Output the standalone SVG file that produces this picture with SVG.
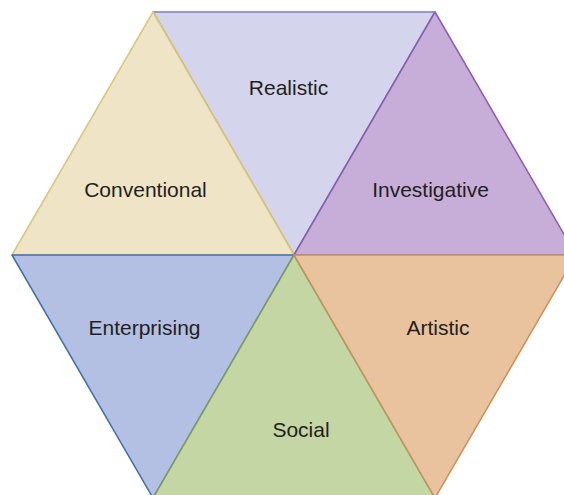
<svg xmlns="http://www.w3.org/2000/svg" width="564" height="495" viewBox="0 0 564 495">
<style>
.t{font-family:"Liberation Sans",Arial,sans-serif;font-size:21px;fill:#231f20;text-anchor:middle}
polygon{stroke-width:1.5;stroke-linejoin:round}
</style>
<rect width="564" height="495" fill="#ffffff"/>
<g id="realistic"><polygon points="153,12 435,12 294,255" fill="#d4d5ec" stroke="#7a7cc8"/><text class="t" x="288.5" y="95">Realistic</text></g>
<g id="conventional"><polygon points="153,12 12,255 294,255" fill="#efe4c6" stroke="#d8c878"/><text class="t" x="145.5" y="197">Conventional</text></g>
<g id="investigative"><polygon points="435,12 576,255 294,255" fill="#c7aed8" stroke="#8c5cb0"/><text class="t" x="430.5" y="197">Investigative</text></g>
<g id="enterprising"><polygon points="12,255 153,498 294,255" fill="#b3c0e3" stroke="#3e6fb8"/><text class="t" x="144.5" y="335">Enterprising</text></g>
<g id="social"><polygon points="153,498 435,498 294,255" fill="#c3d6a4" stroke="#7ea04a"/><text class="t" x="301" y="437">Social</text></g>
<g id="artistic"><polygon points="576,255 435,498 294,255" fill="#e8c39d" stroke="#c89060"/><text class="t" x="438" y="335">Artistic</text></g>
<g id="connectors"></g>
</svg>
